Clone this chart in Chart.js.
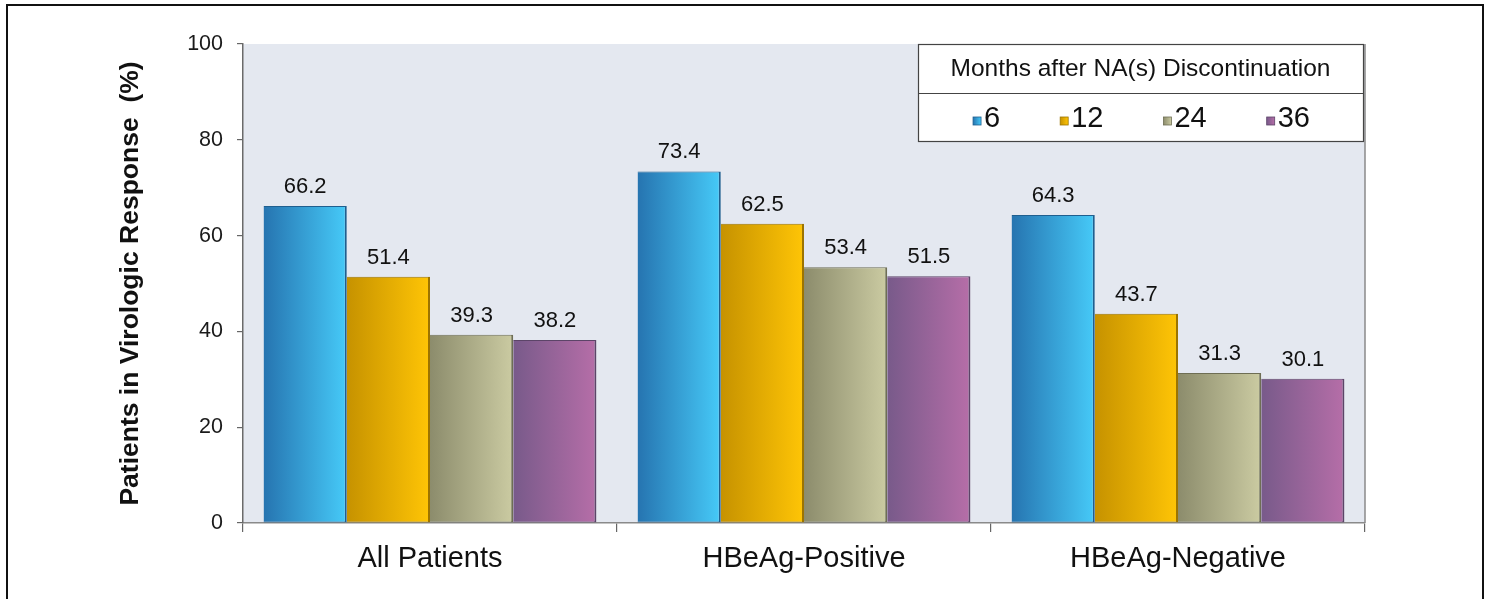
<!DOCTYPE html>
<html>
<head>
<meta charset="utf-8">
<title>Virologic response after NA discontinuation</title>
<script src="https://cdn.jsdelivr.net/npm/chart.js@4.4.1/dist/chart.umd.min.js"></script>
<style>
  html, body { margin: 0; padding: 0; background: #ffffff; }
  #wrap { position: relative; width: 1495px; height: 599px; overflow: hidden; }
  #frame { position: absolute; left: 6px; top: 4px; width: 1478px; height: 640px; border: 2px solid #111; box-sizing: border-box; }
  #chart { position: absolute; left: 0; top: 0; }
</style>
</head>
<body>
<div id="wrap">
  <div id="frame"></div>
  <canvas id="chart" width="1495" height="599"></canvas>
</div>
<script>
// Patient groups along the x axis
const categories = ['All Patients', 'HBeAg-Positive', 'HBeAg-Negative'];

// Months after NA(s) discontinuation (one series each)
const seriesLabels = ['6', '12', '24', '36'];
const month6  = [66.2, 73.4, 64.3];
const month12 = [51.4, 62.5, 43.7];
const month24 = [39.3, 53.4, 31.3];
const month36 = [38.2, 51.5, 30.1];

// Value axis
const yMin = 0;
const yMax = 100;
const yStep = 20;

const legendTitle = 'Months after NA(s) Discontinuation';
const yTitle = 'Patients in Virologic Response  (%)';

// Left-to-right shading for each series: [dark edge, light edge, outline]
const shades = [
  ['#2674b0', '#46caf8', '#1f5f8f'],
  ['#c69200', '#ffc506', '#9c7400'],
  ['#8c8c6c', '#cbcba2', '#6e6e54'],
  ['#785a8a', '#b66ea8', '#5c4468']
];

const FONT = '"Liberation Sans", Arial, Helvetica, sans-serif';

function barGradient(ctx, x0, x1, s) {
  const g = ctx.createLinearGradient(x0, 0, x1, 0);
  g.addColorStop(0, s[0]);
  g.addColorStop(1, s[1]);
  return g;
}

// Plot background and right-hand frame line
const plotBackground = {
  id: 'plotBackground',
  beforeDraw(chart) {
    const { ctx, chartArea: a } = chart;
    ctx.save();
    ctx.fillStyle = '#e4e8f0';
    ctx.fillRect(a.left, a.top, a.right - a.left, a.bottom - a.top);
    ctx.strokeStyle = '#8a8a8a';
    ctx.lineWidth = 1.5;
    ctx.beginPath();
    ctx.moveTo(a.right, a.top);
    ctx.lineTo(a.right, a.bottom);
    ctx.stroke();
    ctx.restore();
  }
};

// Horizontal shading on every bar, taken from the bar's own geometry
const barShading = {
  id: 'barShading',
  beforeDatasetsDraw(chart) {
    const ctx = chart.ctx;
    chart.data.datasets.forEach((ds, di) => {
      const meta = chart.getDatasetMeta(di);
      meta.data.forEach(el => {
        const half = el.width / 2;
        const opts = Object.assign({}, el.options);
        opts.backgroundColor = barGradient(ctx, el.x - half, el.x + half, shades[di]);
        el.options = opts;
      });
    });
  }
};

// Value printed above each bar
const valueLabels = {
  id: 'valueLabels',
  afterDatasetsDraw(chart) {
    const ctx = chart.ctx;
    ctx.save();
    ctx.font = '22px ' + FONT;
    ctx.fillStyle = '#111';
    ctx.textAlign = 'center';
    ctx.textBaseline = 'alphabetic';
    chart.data.datasets.forEach((ds, di) => {
      chart.getDatasetMeta(di).data.forEach((el, i) => {
        ctx.fillText(ds.data[i].toFixed(1), el.x, el.y - 13);
      });
    });
    ctx.restore();
  }
};

// Boxed legend with a title row and one row of entries
const boxedLegend = {
  id: 'boxedLegend',
  afterDraw(chart) {
    const ctx = chart.ctx;
    const left = 918, right = 1363, top = chart.chartArea.top, mid = 93, bottom = 141;
    ctx.save();
    ctx.fillStyle = '#ffffff';
    ctx.fillRect(left, top, right - left, bottom - top);
    ctx.strokeStyle = '#444';
    ctx.lineWidth = 1.2;
    ctx.strokeRect(left + 0.5, top + 0.5, right - left, bottom - top);
    ctx.beginPath();
    ctx.moveTo(left, mid + 0.5);
    ctx.lineTo(right, mid + 0.5);
    ctx.stroke();

    ctx.fillStyle = '#111';
    ctx.textAlign = 'center';
    ctx.textBaseline = 'middle';
    ctx.font = '24.5px ' + FONT;
    ctx.fillText(legendTitle, (left + right) / 2, (top + mid) / 2 + 1);

    ctx.font = '29px ' + FONT;
    ctx.textAlign = 'left';
    ctx.textBaseline = 'alphabetic';
    const sq = 8, gapSq = 3, gapItem = 60;
    const items = chart.data.datasets.map(d => d.label);
    const widths = items.map(t => sq + gapSq + ctx.measureText(t).width);
    const total = widths.reduce((a, b) => a + b, 0) + gapItem * (items.length - 1);
    let x = (left + right) / 2 - total / 2 + 1;
    const base = 127;
    items.forEach((t, i) => {
      ctx.fillStyle = barGradient(ctx, x, x + sq, shades[i]);
      ctx.fillRect(x, base - sq - 2, sq, sq);
      ctx.strokeStyle = shades[i][2];
      ctx.lineWidth = 0.8;
      ctx.strokeRect(x, base - sq - 2, sq, sq);
      ctx.fillStyle = '#111';
      ctx.fillText(t, x + sq + gapSq, base);
      x += widths[i] + gapItem;
    });
    ctx.restore();
  }
};

const seriesValues = [month6, month12, month24, month36];

new Chart(document.getElementById('chart'), {
  type: 'bar',
  data: {
    labels: categories,
    datasets: seriesLabels.map((lab, i) => ({
      label: lab,
      data: seriesValues[i],
      backgroundColor: shades[i][1],
      borderColor: shades[i][2],
      borderWidth: { top: 1, right: 2, bottom: 1, left: 0 },
      borderSkipped: false,
      categoryPercentage: 0.89,
      barPercentage: 1.0
    }))
  },
  options: {
    responsive: false,
    animation: false,
    devicePixelRatio: 1,
    layout: { padding: { left: 0, right: 130, top: 44, bottom: 0 } },
    plugins: {
      legend: { display: false },
      tooltip: { enabled: false }
    },
    scales: {
      x: {
        offset: true,
        grid: {
          offset: true,
          drawOnChartArea: false,
          tickLength: 9,
          color: '#666',
          lineWidth: 1.2
        },
        border: { color: '#8a8a8a', width: 1.5 },
        ticks: {
          color: '#111',
          font: { family: FONT, size: 29 },
          padding: 10,
          maxRotation: 0
        },
        afterFit(scale) { scale.height = 76; }
      },
      y: {
        min: yMin,
        max: yMax,
        grid: {
          drawOnChartArea: false,
          tickLength: 6,
          color: '#666',
          lineWidth: 1.2
        },
        border: { color: '#6a6a6a', width: 1.5 },
        ticks: {
          stepSize: yStep,
          color: '#1a1a1a',
          font: { family: FONT, size: 21.5 },
          padding: 14
        },
        title: {
          display: true,
          text: yTitle,
          color: '#111',
          font: { family: FONT, size: 26.5, weight: 'bold' },
          padding: { top: 115, bottom: 0 }
        },
        afterFit(scale) { scale.width = 243; }
      }
    }
  },
  plugins: [plotBackground, barShading, valueLabels, boxedLegend]
});
</script>
</body>
</html>
